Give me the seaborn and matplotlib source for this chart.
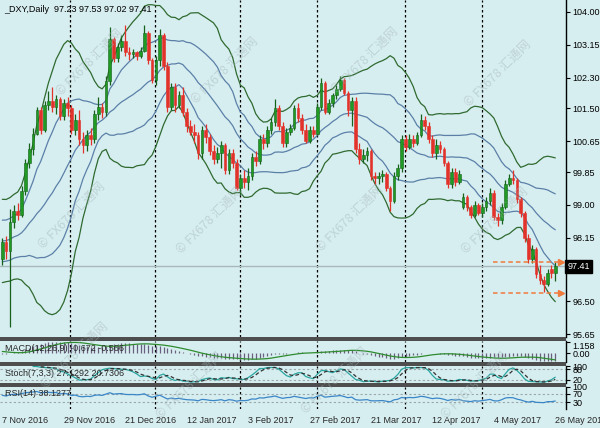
import numpy as np
import pandas as pd
import matplotlib
matplotlib.use("Agg")
import matplotlib.pyplot as plt
from matplotlib.patches import Rectangle
import seaborn as sns

# Daily bars of _DXY, 7 Nov 2016 .. 26 May 2017 (one bar per weekday)
bar_open = [97.60, 98.05, 97.80, 98.55, 98.85, 98.75, 99.35, 100.10, 100.45, 100.85,
            101.45, 100.95, 101.60, 101.70, 101.55, 101.75, 101.30, 101.65, 101.50, 100.95,
            101.20, 100.70, 100.55, 100.80, 100.70, 101.35, 101.55, 101.40, 102.20, 103.30,
            102.80, 103.10, 103.25, 102.95, 102.90, 102.95, 102.85, 103.00, 103.45, 102.75,
            102.25, 102.75, 103.40, 102.60, 101.55, 102.05, 101.60, 101.85, 101.40, 101.05,
            100.90, 100.80, 100.35, 100.95, 100.75, 100.40, 100.20, 100.35, 100.55, 99.90,
            100.35, 100.10, 99.45, 99.70, 99.60, 99.75, 100.25, 100.15, 100.70, 100.60,
            100.95, 101.15, 101.50, 101.05, 100.60, 100.90, 101.00, 101.50, 101.25, 100.95,
            100.65, 100.95, 100.85, 101.55, 102.15, 101.40, 101.65, 101.85, 102.00, 102.25,
            101.90, 101.45, 101.70, 100.45, 100.20, 100.30, 100.40, 99.75, 99.70, 99.75,
            99.80, 99.45, 99.10, 99.75, 99.95, 100.70, 100.50, 100.70, 100.60, 100.80,
            101.20, 101.05, 100.70, 100.35, 100.55, 100.45, 100.10, 99.55, 99.85, 99.60,
            98.95, 99.20, 98.95, 98.75, 99.00, 98.80, 98.95, 99.10, 99.30, 98.70,
            98.60, 98.95, 99.55, 99.70, 99.65, 99.15, 98.80, 98.15, 97.60, 97.85,
            97.20, 97.05, 96.95, 97.35, 97.23]
bar_high = [98.15, 98.20, 98.90, 99.00, 99.05, 99.50, 100.20, 100.60, 101.00, 101.55,
            101.55, 101.70, 101.95, 102.05, 101.85, 101.80, 101.75, 101.80, 101.60, 101.35,
            101.45, 100.90, 100.95, 101.00, 101.45, 101.80, 101.65, 102.35, 103.60, 103.35,
            103.20, 103.40, 103.65, 103.10, 103.05, 103.00, 103.10, 103.65, 103.50, 102.80,
            102.85, 103.55, 103.45, 102.70, 102.15, 102.15, 101.95, 102.05, 101.50, 101.20,
            101.10, 100.90, 101.05, 101.10, 100.85, 100.55, 100.50, 100.65, 100.60, 100.45,
            100.45, 100.20, 99.80, 99.90, 99.95, 100.35, 100.40, 100.80, 100.85, 101.05,
            101.25, 101.75, 101.60, 101.15, 101.00, 101.10, 101.60, 101.65, 101.35, 101.10,
            101.05, 101.05, 101.65, 102.30, 102.20, 101.75, 101.90, 102.10, 102.35, 102.30,
            101.95, 101.80, 101.80, 100.60, 100.45, 100.50, 100.45, 99.85, 99.85, 99.90,
            99.85, 99.50, 99.85, 100.05, 100.80, 100.80, 100.85, 100.80, 100.90, 101.35,
            101.30, 101.15, 100.80, 100.70, 100.65, 100.50, 100.15, 99.95, 99.95, 99.90,
            99.30, 99.25, 99.00, 99.10, 99.05, 99.05, 99.20, 99.45, 99.40, 98.80,
            99.05, 99.65, 99.80, 99.90, 99.70, 99.20, 98.85, 98.25, 97.95, 97.90,
            97.45, 97.15, 97.35, 97.45, 97.53]
bar_low = [97.45, 97.60, 95.85, 98.40, 98.60, 98.70, 99.25, 99.95, 100.30, 100.80,
           100.85, 100.90, 101.45, 101.40, 101.35, 101.20, 101.20, 101.30, 100.85, 100.80,
           100.55, 100.35, 100.40, 100.55, 100.60, 101.20, 101.25, 101.30, 102.10, 102.70,
           102.70, 103.00, 102.85, 102.75, 102.80, 102.75, 102.80, 102.95, 102.65, 102.15,
           102.10, 102.60, 102.50, 101.40, 101.45, 101.40, 101.50, 101.30, 100.90, 100.80,
           100.60, 100.20, 100.20, 100.60, 100.30, 100.05, 100.10, 99.95, 99.80, 99.80,
           99.95, 99.40, 99.25, 99.45, 99.40, 99.65, 100.00, 100.05, 100.45, 100.50,
           100.85, 101.05, 100.95, 100.50, 100.50, 100.80, 100.95, 101.15, 100.85, 100.60,
           100.60, 100.75, 100.80, 101.45, 101.35, 101.35, 101.55, 101.75, 101.95, 101.85,
           101.30, 101.05, 100.35, 100.05, 100.10, 100.15, 99.65, 99.55, 99.55, 99.60,
           99.35, 98.85, 99.05, 99.65, 99.85, 100.40, 100.45, 100.50, 100.55, 100.75,
           100.95, 100.60, 100.25, 100.20, 100.35, 100.00, 99.45, 99.45, 99.50, 99.55,
           98.90, 98.85, 98.65, 98.70, 98.75, 98.70, 98.85, 99.00, 98.60, 98.45,
           98.50, 98.90, 99.50, 99.55, 99.05, 98.70, 98.05, 97.50, 97.50, 97.10,
           96.95, 96.75, 96.90, 97.10, 97.02]
bar_close = [98.05, 97.80, 98.55, 98.85, 98.75, 99.35, 100.10, 100.45, 100.85, 101.45,
             100.95, 101.60, 101.70, 101.55, 101.75, 101.30, 101.65, 101.50, 100.95, 101.20,
             100.70, 100.55, 100.80, 100.70, 101.35, 101.55, 101.40, 102.20, 103.30, 102.80,
             103.10, 103.25, 102.95, 102.90, 102.95, 102.85, 103.00, 103.45, 102.75, 102.25,
             102.75, 103.40, 102.60, 101.55, 102.05, 101.60, 101.85, 101.40, 101.05, 100.90,
             100.80, 100.35, 100.95, 100.75, 100.40, 100.20, 100.35, 100.55, 99.90, 100.35,
             100.10, 99.45, 99.70, 99.60, 99.75, 100.25, 100.15, 100.70, 100.60, 100.95,
             101.15, 101.50, 101.05, 100.60, 100.90, 101.00, 101.50, 101.25, 100.95, 100.65,
             100.95, 100.85, 101.55, 102.15, 101.40, 101.65, 101.85, 102.00, 102.25, 101.90,
             101.45, 101.70, 100.45, 100.20, 100.30, 100.40, 99.75, 99.70, 99.75, 99.80,
             99.45, 99.10, 99.75, 99.95, 100.70, 100.50, 100.70, 100.60, 100.80, 101.20,
             101.05, 100.70, 100.35, 100.55, 100.45, 100.10, 99.55, 99.85, 99.60, 99.80,
             99.20, 98.95, 98.75, 99.00, 98.80, 98.95, 99.10, 99.30, 98.70, 98.60,
             98.95, 99.55, 99.70, 99.65, 99.15, 98.80, 98.15, 97.60, 97.85, 97.20,
             97.05, 96.95, 97.25, 97.23, 97.41]
# closes before 7 Nov 2016, only used to warm up the indicators
prior_close = [97.60, 97.90, 97.60, 98.00, 98.00, 97.90, 97.70, 98.60, 98.70, 98.80,
               98.90, 98.60, 98.80, 98.30, 98.40, 97.80, 97.50, 97.20, 97.00]

date_labels = ["7 Nov 2016", "29 Nov 2016", "21 Dec 2016", "12 Jan 2017", "3 Feb 2017",
               "27 Feb 2017", "21 Mar 2017", "12 Apr 2017", "4 May 2017", "26 May 2017"]
date_label_bars = [0, 16, 32, 48, 64, 80, 96, 112, 128, 144]
price_ticks = [104.00, 103.15, 102.30, 101.50, 100.65, 99.85, 99.00, 98.15, 96.50, 95.65]
last_price = 97.41
arrow_levels = [97.52, 96.72]
grid_bars = [17.6, 39.8, 61.9, 82.0, 104.9, 124.9]

BG = "#d7eef0"
UP = "#1f9a22"
UP_WICK = "#17621a"
DOWN = "#e2322a"
BB_GREEN = "#2f6a30"
BB_BLUE = "#5b80a8"

# ---- indicators
n = len(bar_close)
bars = np.arange(n)
all_close = pd.Series(prior_close + bar_close)
mid = all_close.rolling(20).mean()
sd = all_close.rolling(20).std(ddof=0)
bands = pd.DataFrame({"bar": bars,
                      "mid": mid.values[-n:],
                      "up2": (mid + 2 * sd).values[-n:],
                      "dn2": (mid - 2 * sd).values[-n:],
                      "up1": (mid + sd).values[-n:],
                      "dn1": (mid - sd).values[-n:]})

ema12 = all_close.ewm(span=12, adjust=False).mean()
ema26 = all_close.ewm(span=26, adjust=False).mean()
macd_all = ema12 - ema26
signal_all = macd_all.rolling(9).mean()
macd = macd_all.values[-n:]
signal = signal_all.values[-n:]

hi = pd.Series(bar_high)
lo = pd.Series(bar_low)
cl = pd.Series(bar_close)
ll7 = lo.rolling(7).min()
hh7 = hi.rolling(7).max()
k = 100 * (cl - ll7).rolling(3).sum() / (hh7 - ll7).rolling(3).sum()
d = k.rolling(3).mean()

delta = all_close.diff()
gain = delta.clip(lower=0).ewm(alpha=1 / 14, adjust=False).mean()
loss = (-delta.clip(upper=0)).ewm(alpha=1 / 14, adjust=False).mean()
rsi = (100 - 100 / (1 + gain / loss)).values[-n:]

# ---- figure
sns.set_style("white")
plt.rcParams["font.family"] = ["Liberation Sans", "DejaVu Sans"]
plt.rcParams["font.size"] = 6.5

W, H = 600, 428
fig = plt.figure(figsize=(W / 100, H / 100), dpi=100, facecolor=BG)


def px_rect(x0, y0, x1, y1):
    return [x0 / W, 1 - y1 / H, (x1 - x0) / W, (y1 - y0) / H]


RIGHT = 566
ax = fig.add_axes(px_rect(0, 0, RIGHT, 337))
ax_macd = fig.add_axes(px_rect(0, 341, RIGHT, 362))
ax_sto = fig.add_axes(px_rect(0, 366, RIGHT, 383))
ax_rsi = fig.add_axes(px_rect(0, 387, RIGHT, 409))

for y0, y1 in [(337, 341), (362, 366), (383, 387)]:
    fig.add_artist(Rectangle((0, 1 - y1 / H), RIGHT / W, (y1 - y0) / H,
                             transform=fig.transFigure, facecolor="#4e4e4e",
                             edgecolor="none"))

XMIN, XMAX = -0.6, RIGHT / 3.84 - 0.6
for a in [ax, ax_macd, ax_sto, ax_rsi]:
    a.set_facecolor(BG)
    a.set_xlim(XMIN, XMAX)
    for s in ["left", "top", "bottom"]:
        a.spines[s].set_visible(False)
    a.spines["right"].set_color("black")
    a.spines["right"].set_linewidth(1)
    a.yaxis.tick_right()
    a.tick_params(axis="y", length=3, width=0.8, pad=1.5, labelsize=6.5, colors="black")
    a.tick_params(axis="x", length=0)
    a.set_xticks([])
    for gx in grid_bars:
        a.axvline(gx, color="black", lw=0.9, ls=(0, (2, 2)), zorder=1)

# ---- main price chart
ax.set_ylim(104.31 - 337 / 38.6, 104.31)
ax.axhline(last_price, color="#a9b9bb", lw=1, zorder=1)
for col, colr in [("up2", BB_GREEN), ("dn2", BB_GREEN), ("up1", BB_BLUE),
                  ("mid", BB_BLUE), ("dn1", BB_BLUE)]:
    sns.lineplot(data=bands, x="bar", y=col, ax=ax, color=colr, lw=0.9, zorder=2)

op = np.array(bar_open)
cp = np.array(bar_close)
rising = cp >= op
body_lo = np.minimum(op, cp)
body_h = np.maximum(np.abs(cp - op), 0.02)
ax.vlines(bars, bar_low, bar_high, colors=np.where(rising, UP_WICK, DOWN), lw=0.9, zorder=3)
ax.bar(bars, body_h, bottom=body_lo, width=0.7, color=np.where(rising, UP, DOWN),
       edgecolor=np.where(rising, UP_WICK, DOWN), linewidth=0.4, zorder=4)

for lvl in arrow_levels:
    ax.plot([127.8, 145.6], [lvl, lvl], color="#f07a3c", lw=1.1, ls=(0, (3, 2)), zorder=5)
    ax.plot([145.6], [lvl], marker=">", color="#f07a3c", ms=4, zorder=5)

ax.set_yticks(price_ticks)
ax.set_yticklabels([f"{p:.2f}" for p in price_ticks])
ax.text(1.002, last_price, f"{last_price:.2f}", transform=ax.get_yaxis_transform(),
        color="white", fontsize=6.5, va="center", ha="left",
        bbox=dict(boxstyle="square,pad=0.25", fc="black", ec="black"))
ax.text(0.008, 0.972, "_DXY,Daily  97.23 97.53 97.02 97.41", transform=ax.transAxes,
        fontsize=6.5, va="center", ha="left", color="black")

# ---- MACD
ax_macd.vlines(bars, 0, macd, colors="#6a5f7e", lw=0.9, zorder=2)
sns.lineplot(x=bars, y=signal, ax=ax_macd, color="#2e8b2e", lw=0.9, zorder=3)
m_lo = np.nanmin([np.nanmin(macd), np.nanmin(signal)])
m_hi = np.nanmax([np.nanmax(macd), np.nanmax(signal)])
ax_macd.set_ylim(m_lo - 0.05, m_hi + 0.05)
ax_macd.set_yticks([m_hi, 0])
ax_macd.set_yticklabels(["1.158", "0.00"])
ax_macd.get_yticklabels()[0].set_va("top")
ax_macd.text(0.008, 0.62, "MACD(12,26,9) -0.672 -0.566", transform=ax_macd.transAxes,
             fontsize=6.5, va="center")

# ---- Stochastic
ax_sto.set_ylim(0, 100)
for lvl in [20, 80]:
    ax_sto.axhline(lvl, color="#9aa8aa", lw=0.8, ls=(0, (2, 2)), zorder=1)
sns.lineplot(x=bars, y=k.values, ax=ax_sto, color="#2aa6a0", lw=0.9, zorder=3)
sns.lineplot(x=bars, y=d.values, ax=ax_sto, color="#333333", lw=0.9, ls=(0, (3, 2)), zorder=3)
ax_sto.set_yticks([100, 80, 20])
ax_sto.set_yticklabels(["100", "80", "20"])
ax_sto.text(0.008, 0.55, "Stoch(7,3,3) 27.1292 20.7306", transform=ax_sto.transAxes,
            fontsize=6.5, va="center")

# ---- RSI
ax_rsi.set_ylim(0, 100)
for lvl in [30, 70]:
    ax_rsi.axhline(lvl, color="#9aa8aa", lw=0.8, ls=(0, (2, 2)), zorder=1)
sns.lineplot(x=bars, y=rsi, ax=ax_rsi, color="#3a86c8", lw=0.9, zorder=3)
ax_rsi.set_yticks([100, 70, 30])
ax_rsi.set_yticklabels(["100", "70", "30"])
ax_rsi.text(0.008, 0.7, "RSI(14) 38.1277", transform=ax_rsi.transAxes,
            fontsize=6.5, va="center")
ax_rsi.set_xticks(date_label_bars)
ax_rsi.set_xticklabels(date_labels, ha="left")
ax_rsi.tick_params(axis="x", length=3, pad=2, labelsize=6.5)

for a in [ax, ax_macd, ax_sto, ax_rsi]:
    a.set_xlabel("")
    a.set_ylabel("")

# ---- watermark
wm = [(90, 62), (225, 70), (365, 60), (498, 73), (72, 215), (210, 220), (350, 218),
      (495, 220), (75, 355), (190, 385), (335, 380), (475, 385)]
for x, y in wm:
    fig.text(x / W, 1 - y / H, "© FX678 汇通网", rotation=45, ha="center", va="center",
             fontsize=9, color="#9fb2b5", alpha=0.45,
             family=["Noto Sans CJK SC", "DejaVu Sans"])

fig.savefig("out.png", dpi=100, facecolor=BG)
